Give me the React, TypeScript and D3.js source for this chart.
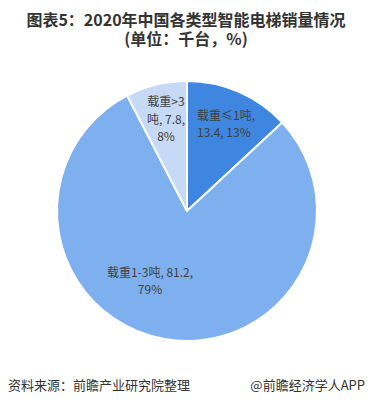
import React from "react";
import * as d3 from "d3";

const values = [13.4, 81.2, 7.8];
const colors = ["#3F86E0", "#7EB0F0", "#C6DAF6"];
const labelLines = [
  ["载重≤1吨,", "13.4, 13%"],
  ["载重1-3吨, 81.2,", "79%"],
  ["载重>3", "吨, 7.8,", "8%"],
];
const titleLines = ["图表5：2020年中国各类型智能电梯销量情况", "(单位：千台，%)"];

const W = 372;
const H = 414;
const cx = 187;
const cy = 211;
const R = 130;
const FONT = "'Noto Sans CJK SC', 'Noto Sans', sans-serif";

export default function App() {
  const pie = d3.pie<number>().sort(null).value((d) => d);
  const arcs = pie(values);
  const arcGen = d3.arc<d3.PieArcDatum<number>>().innerRadius(0).outerRadius(R);
  return (
    <svg width={W} height={H} style={{ display: "block", position: "absolute", left: 0, top: 0 }}>
      <rect width={W} height={H} fill="#fff" />
      <text x={186} y={26} textAnchor="middle" fontFamily={FONT} fontWeight="bold" fontSize={16} fill="#333">
        {titleLines[0]}
      </text>
      <text x={186} y={45} textAnchor="middle" fontFamily={FONT} fontWeight="bold" fontSize={16} fill="#333">
        {titleLines[1]}
      </text>
      <g transform={`translate(${cx},${cy})`}>
        {arcs.map((a, i) => (
          <path key={i} d={arcGen(a) || ""} fill={colors[i]} stroke="#fff" strokeWidth={2} strokeLinejoin="round" />
        ))}
      </g>
      <text fontFamily={FONT} fontSize={12} fill="#404040">
        {labelLines[0].map((t, j) => (
          <tspan key={j} x={197} y={120 + j * 17}>{t}</tspan>
        ))}
      </text>
      <text fontFamily={FONT} fontSize={12} fill="#404040" textAnchor="middle">
        {labelLines[1].map((t, j) => (
          <tspan key={j} x={150} y={277 + j * 17}>{t}</tspan>
        ))}
      </text>
      <text fontFamily={FONT} fontSize={12} fill="#404040" textAnchor="middle">
        {labelLines[2].map((t, j) => (
          <tspan key={j} x={166} y={106 + j * 17.5}>{t}</tspan>
        ))}
      </text>
      <text x={8} y={390} fontFamily={FONT} fontSize={13} fill="#333">
        资料来源：前瞻产业研究院整理
      </text>
      <text x={365} y={390} textAnchor="end" fontFamily={FONT} fontSize={13} fill="#333">
        @前瞻经济学人APP
      </text>
    </svg>
  );
}
